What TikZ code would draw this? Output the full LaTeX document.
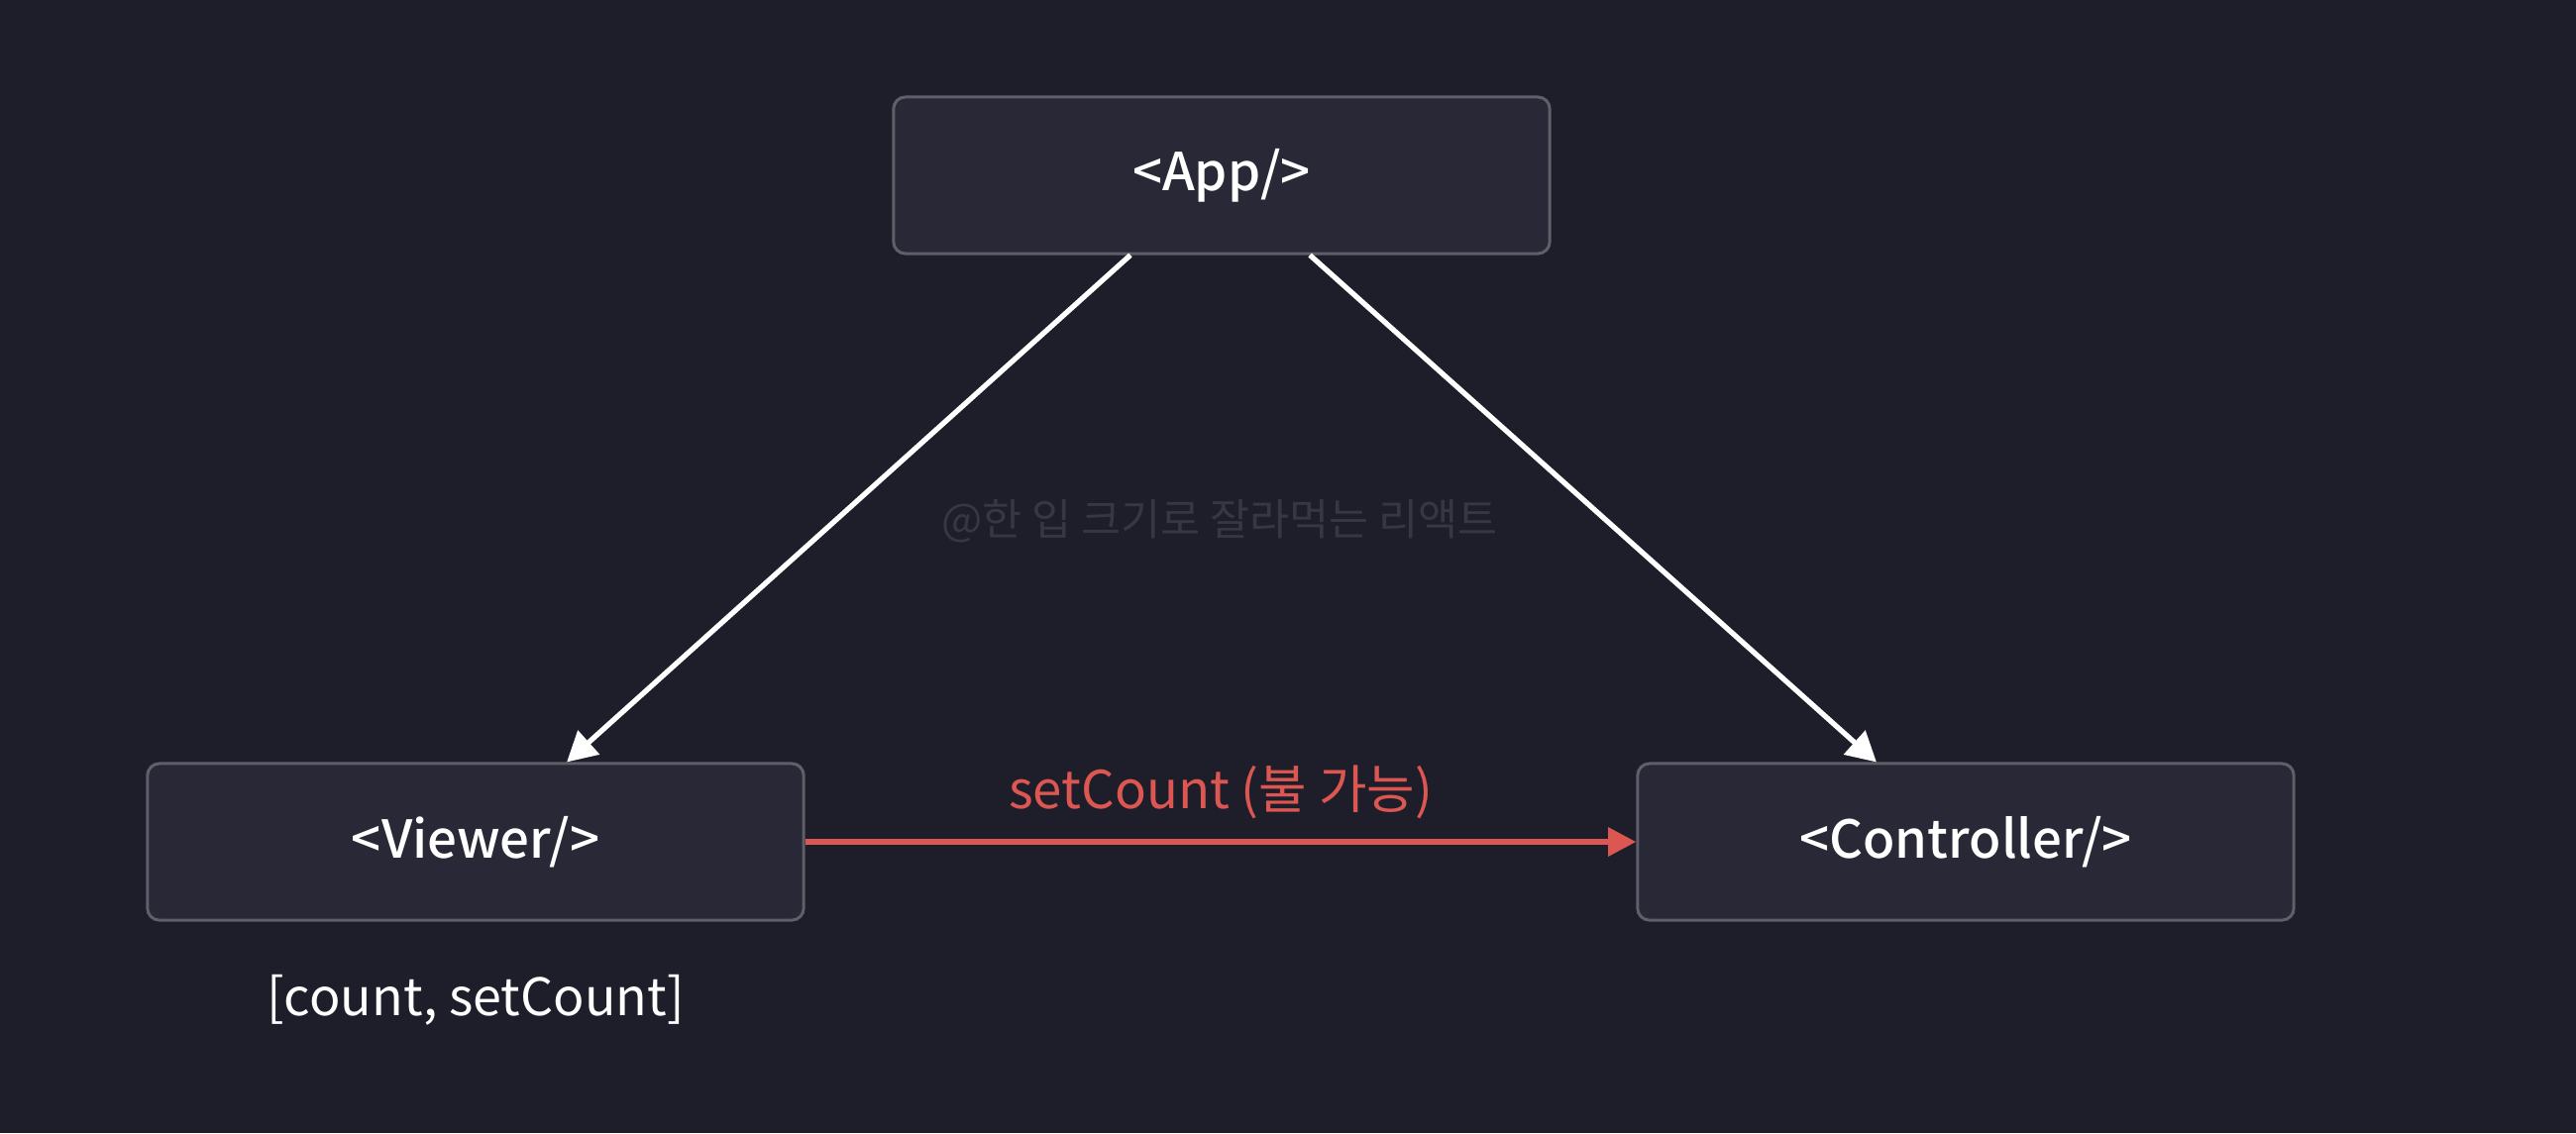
\documentclass[tikz,border=0pt]{standalone}
\usepackage{fontspec}
\setmainfont{Noto Sans CJK KR}
\newfontfamily\medfont{Noto Sans CJK KR Medium}
\usetikzlibrary{arrows.meta,calc}
\definecolor{bgc}{HTML}{1E1E2B}
\definecolor{boxfill}{HTML}{282836}
\definecolor{boxline}{HTML}{5F5F6A}
\definecolor{redc}{HTML}{DC5752}
\definecolor{wmark}{HTML}{363644}
\tikzset{
  comp/.style={draw=boxline, line width=0.85pt, fill=boxfill, rounded corners=0.12cm,
    minimum width=6.62cm, minimum height=1.58cm, text=white, inner sep=0pt,
    font=\medfont\fontsize{15pt}{18pt}\selectfont},
  warrow/.style={draw=white, line width=1.5pt, -{Triangle[length=8.5pt,width=9pt]}},
  rarrow/.style={draw=redc, line width=1.6pt, -{Triangle[length=8pt,width=8pt]}},
  plain/.style={text=white, inner sep=0pt, font=\fontsize{14.8pt}{17pt}\selectfont},
}
\begin{document}
\begin{tikzpicture}[x=0.01cm,y=-0.01cm]
  \fill[bgc] (0,0) rectangle (2600,1144);
  \useasboundingbox (0,0) rectangle (2600,1144);
  \node[text=wmark, inner sep=0pt, font=\fontsize{12.4pt}{15pt}\selectfont] (wm) at (1231,526) {@한 입 크기로 잘라먹는 리액트};
  \node[comp] (app) at (1233,177) {<App/>};
  \node[comp] (viewer) at (480,850) {<Viewer/>};
  \node[comp] (ctrl) at (1984,850) {<Controller/>};
  \node[plain] (state) at (480,1010) {[count, setCount]};
  \draw[warrow] ([xshift=-0.92cm]app.south) -- ([xshift=0.92cm]viewer.north);
  \draw[warrow] ([xshift=0.89cm]app.south) -- ([xshift=-0.9cm]ctrl.north);
  \draw[rarrow] (viewer.east) -- node[midway, above=0.2cm, inner sep=0pt, text=redc, font=\fontsize{15pt}{17pt}\selectfont] (lbl) {setCount (불 가능)} (ctrl.west);
\end{tikzpicture}
\end{document}
